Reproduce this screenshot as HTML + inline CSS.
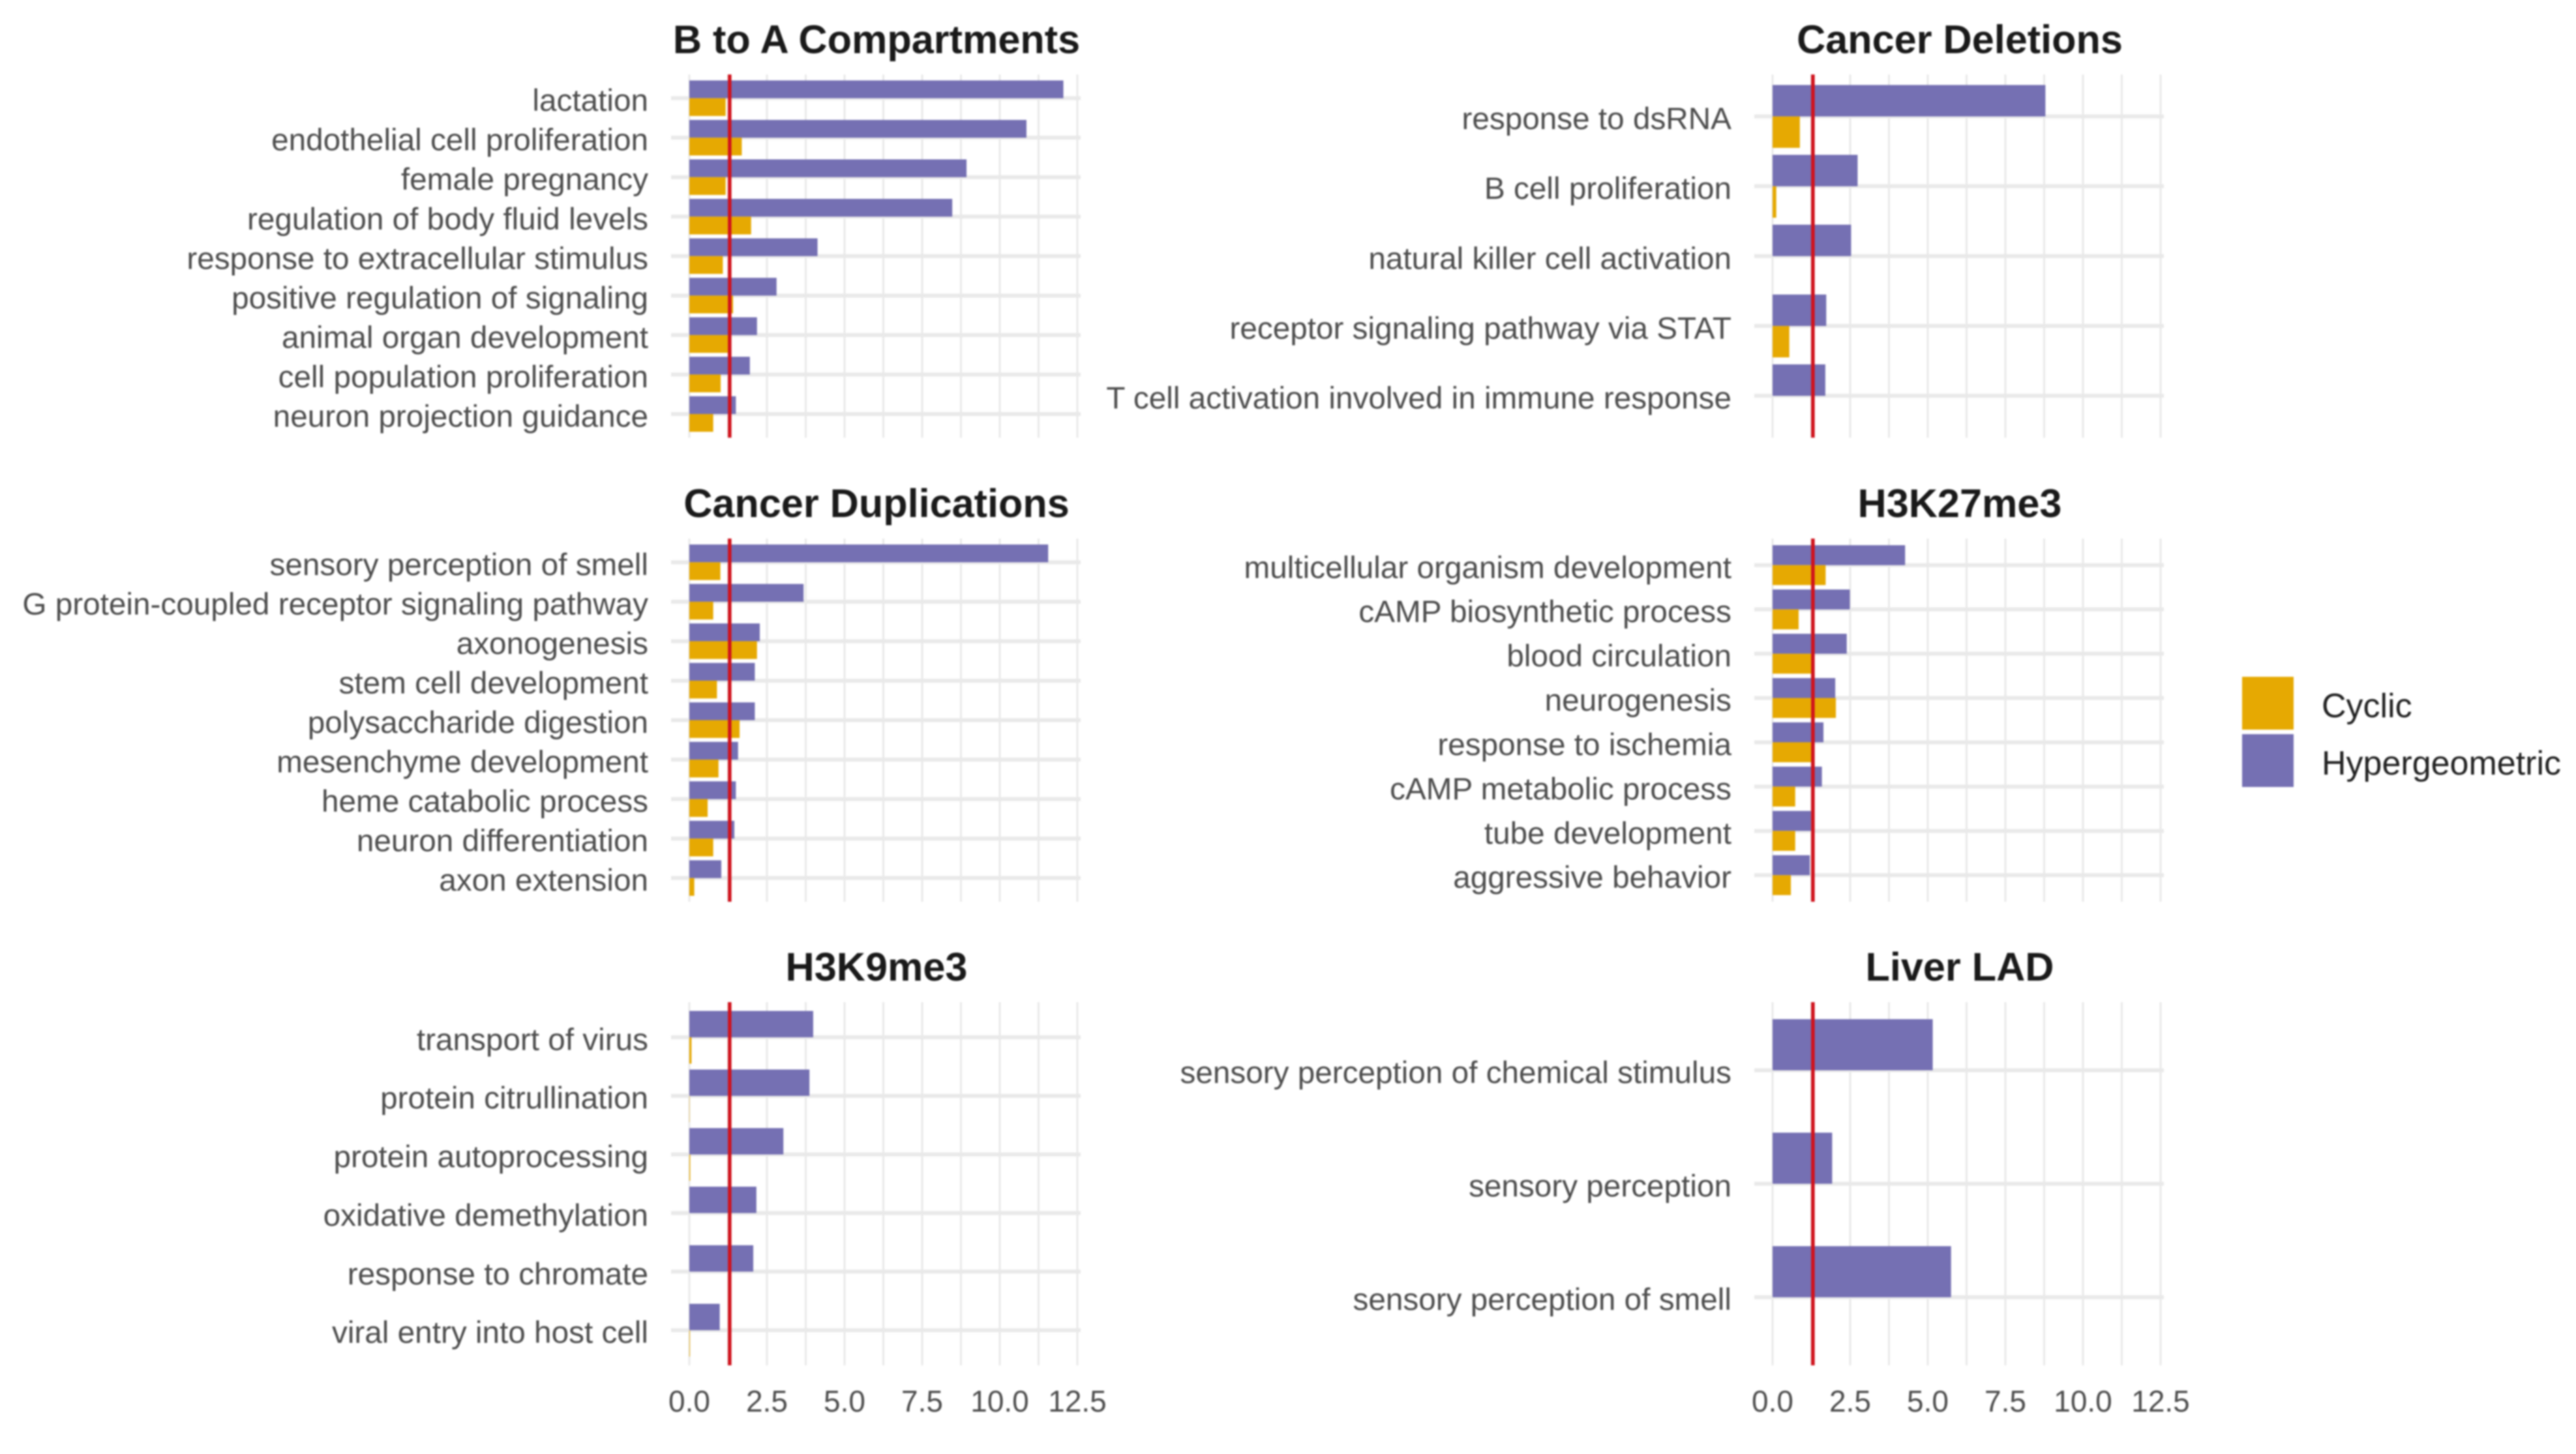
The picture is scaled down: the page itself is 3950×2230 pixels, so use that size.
<!DOCTYPE html>
<html lang="en">
<head>
<meta charset="utf-8">
<title>Enrichment by genomic region</title>
<style>
  html, body { margin: 0; padding: 0; background: #fff; }
  body { width: 3950px; height: 2230px; overflow: hidden; }
  svg { display: block; filter: blur(1.4px); }
  text { font-family: "Liberation Sans", Arial, sans-serif; }
</style>
</head>
<body>
<svg id="chart" xmlns="http://www.w3.org/2000/svg" width="3950" height="2230" viewBox="0 0 3950 2230"></svg>
<script>
// ---- data ----
const xTickValues = [0, 2.5, 5, 7.5, 10, 12.5];
const xTickLabels = ["0.0", "2.5", "5.0", "7.5", "10.0", "12.5"];
const thresholdValue = 1.3;
const legendLabels = ["Cyclic", "Hypergeometric"];

const compartmentsCategories = ["lactation", "endothelial cell proliferation", "female pregnancy", "regulation of body fluid levels", "response to extracellular stimulus", "positive regulation of signaling", "animal organ development", "cell population proliferation", "neuron projection guidance"];
const compartmentsHypergeometric = [12.05, 10.86, 8.93, 8.47, 4.13, 2.81, 2.18, 1.95, 1.5];
const compartmentsCyclic = [1.17, 1.69, 1.17, 1.99, 1.08, 1.41, 1.29, 1.01, 0.77];

const deletionsCategories = ["response to dsRNA", "B cell proliferation", "natural killer cell activation", "receptor signaling pathway via STAT", "T cell activation involved in immune response"];
const deletionsHypergeometric = [8.79, 2.74, 2.53, 1.73, 1.7];
const deletionsCyclic = [0.88, 0.12, 0, 0.54, 0];

const duplicationsCategories = ["sensory perception of smell", "G protein-coupled receptor signaling pathway", "axonogenesis", "stem cell development", "polysaccharide digestion", "mesenchyme development", "heme catabolic process", "neuron differentiation", "axon extension"];
const duplicationsHypergeometric = [11.56, 3.68, 2.27, 2.11, 2.11, 1.57, 1.5, 1.45, 1.03];
const duplicationsCyclic = [1.0, 0.77, 2.18, 0.89, 1.62, 0.94, 0.59, 0.77, 0.16];

const k27Categories = ["multicellular organism development", "cAMP biosynthetic process", "blood circulation", "neurogenesis", "response to ischemia", "cAMP metabolic process", "tube development", "aggressive behavior"];
const k27Hypergeometric = [4.27, 2.49, 2.39, 2.02, 1.64, 1.59, 1.24, 1.2];
const k27Cyclic = [1.71, 0.84, 1.29, 2.04, 1.29, 0.73, 0.73, 0.59];

const k9Categories = ["transport of virus", "protein citrullination", "protein autoprocessing", "oxidative demethylation", "response to chromate", "viral entry into host cell"];
const k9Hypergeometric = [3.99, 3.87, 3.03, 2.16, 2.06, 0.98];
const k9Cyclic = [0.07, 0.01, 0.03, 0, 0, 0.02];

const liverCategories = ["sensory perception of chemical stimulus", "sensory perception", "sensory perception of smell"];
const liverHypergeometric = [5.16, 1.92, 5.75];
const liverCyclic = [0, 0, 0];

// ---- drawing ----
const svgNS = "http://www.w3.org/2000/svg";
const chart = document.getElementById("chart");
const PURPLE = "#7570b3";
const ORANGE = "#e6a902";
const GRID = "#e9e9e9";
const PANEL_HEIGHT = 557;
const UNIT = 47.6;

function make(tag, attrs, parent) {
  const el = document.createElementNS(svgNS, tag);
  for (const key in attrs) el.setAttribute(key, attrs[key]);
  parent.appendChild(el);
  return el;
}

function drawPanel(slug, title, categories, hypergeometric, cyclic, x0, top, showXAxis) {
  const group = make("g", {}, chart);
  
  

  const step = PANEL_HEIGHT / (categories.length - 1 + 1.2);
  const xScale = v => x0 + v * UNIT;
  const yScale = i => top + 0.6 * step + i * step;
  const barHeight = 0.45 * step;
  const bottom = top + PANEL_HEIGHT;

  const titleEl = make("text", { x: x0 + 287, y: top - 33, "font-size": 61.2, "font-weight": "bold", fill: "#1a1a1a", "text-anchor": "middle" }, group);
  titleEl.textContent = title;
  
  

  // vertical grid (major ticks and their midpoints)
  xTickValues.forEach((v, i) => {
    const major = make("line", { x1: xScale(v), x2: xScale(v), y1: top, y2: bottom, stroke: GRID, "stroke-width": 3 }, group);
    
    
    if (i < xTickValues.length - 1) {
      const mid = (v + xTickValues[i + 1]) / 2;
      const minor = make("line", { x1: xScale(mid), x2: xScale(mid), y1: top, y2: bottom, stroke: GRID, "stroke-width": 3 }, group);
      
      
    }
  });

  categories.forEach((name, i) => {
    const y = yScale(i);

    const grid = make("line", { x1: x0 - 28, x2: x0 + 600, y1: y, y2: y, stroke: GRID, "stroke-width": 6 }, group);
    
    

    const label = make("text", { x: x0 - 63, y: y + 19.5, "font-size": 47.7, fill: "#4d4d4d", "text-anchor": "end" }, group);
    label.textContent = name;
    
    

    const hyperBar = make("rect", { x: x0, y: y - barHeight, width: xScale(hypergeometric[i]) - x0, height: barHeight, fill: PURPLE }, group);
    
    

    const cyclicBar = make("rect", { x: x0, y: y, width: xScale(cyclic[i]) - x0, height: barHeight, fill: ORANGE }, group);
    
    
  });

  const redLine = make("line", { x1: xScale(thresholdValue), x2: xScale(thresholdValue), y1: top, y2: bottom, stroke: "#d0121c", "stroke-width": 5.5 }, group);
  
  

  if (showXAxis) {
    xTickValues.forEach((v, i) => {
      const tick = make("text", { x: xScale(v), y: bottom + 71, "font-size": 46, fill: "#4d4d4d", "text-anchor": "middle" }, group);
      tick.textContent = xTickLabels[i];
      
      
    });
  }
}

drawPanel("b-to-a-compartments", "B to A Compartments", compartmentsCategories, compartmentsHypergeometric, compartmentsCyclic, 1057, 114.3, false);
drawPanel("cancer-deletions", "Cancer Deletions", deletionsCategories, deletionsHypergeometric, deletionsCyclic, 2718, 114.3, false);
drawPanel("cancer-duplications", "Cancer Duplications", duplicationsCategories, duplicationsHypergeometric, duplicationsCyclic, 1057, 826, false);
drawPanel("h3k27me3", "H3K27me3", k27Categories, k27Hypergeometric, k27Cyclic, 2718, 826, false);
drawPanel("h3k9me3", "H3K9me3", k9Categories, k9Hypergeometric, k9Cyclic, 1057, 1537, true);
drawPanel("liver-lad", "Liver LAD", liverCategories, liverHypergeometric, liverCyclic, 2718, 1537, true);

// legend
const legendColors = [ORANGE, PURPLE];
const legend = make("g", {}, chart);


legendLabels.forEach((name, i) => {
  const swatch = make("rect", { x: 3438, y: 1038 + i * 88, width: 79, height: 81, fill: legendColors[i] }, legend);
  
  
  const label = make("text", { x: 3560, y: 1100 + i * 88, "font-size": 52, fill: "#222" }, legend);
  label.textContent = name;
  
  
});
</script>
</body>
</html>
